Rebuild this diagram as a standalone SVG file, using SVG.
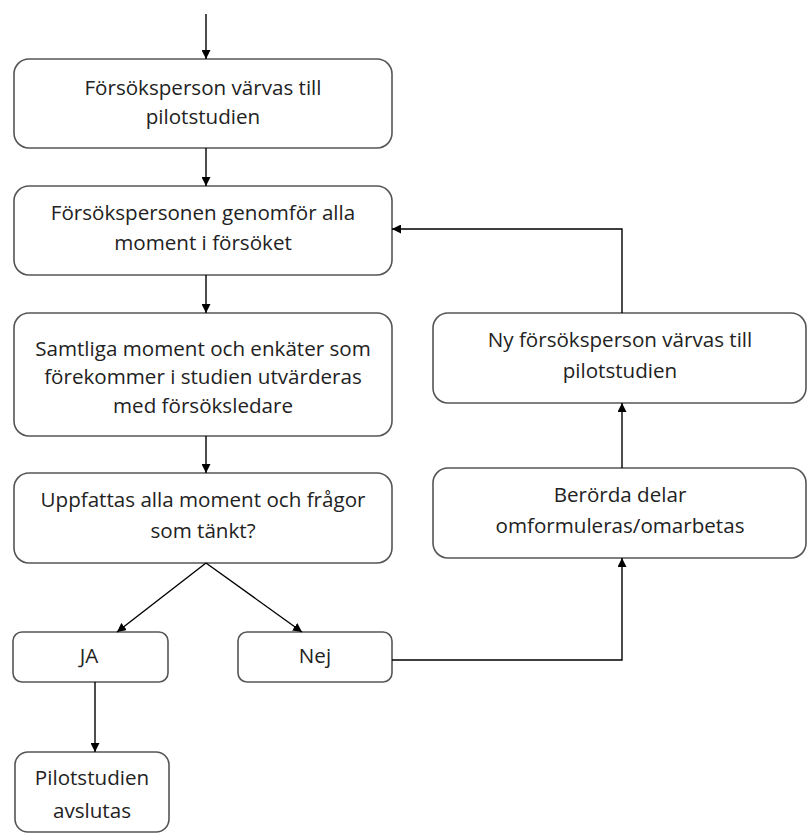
<svg xmlns="http://www.w3.org/2000/svg" width="807" height="840" viewBox="0 0 807 840">
<defs>
<marker id="ah" viewBox="0 0 10 10" refX="10" refY="5" markerWidth="9" markerHeight="9" markerUnits="userSpaceOnUse" orient="auto"><path d="M0,0 L10,5 L0,10 z" fill="#000"/></marker>
<style>
.box{fill:#fff;stroke:#555;stroke-width:1.6}
.t{font-family:"Open Sans","Liberation Sans",Arial,sans-serif;font-size:20.6px;fill:#222;text-anchor:middle}
.c{fill:none;stroke:#000;stroke-width:1.4;marker-end:url(#ah)}
</style>
</defs>
<rect width="807" height="840" fill="#fff"/>
<g id="n1"><rect class="box" x="14" y="59" width="378" height="89" rx="15"/><text class="t" x="203" y="95">Försöksperson värvas till</text><text class="t" x="203" y="124">pilotstudien</text></g>
<g id="n2"><rect class="box" x="14" y="186" width="378" height="89" rx="15"/><text class="t" x="203" y="220">Försökspersonen genomför alla</text><text class="t" x="203" y="250">moment i försöket</text></g>
<g id="n3"><rect class="box" x="14" y="313" width="378" height="123" rx="15"/><text class="t" x="203" y="356">Samtliga moment och enkäter som</text><text class="t" x="203" y="384">förekommer i studien utvärderas</text><text class="t" x="203" y="413">med försöksledare</text></g>
<g id="n4"><rect class="box" x="14" y="473" width="378" height="90" rx="15"/><text class="t" x="203" y="507">Uppfattas alla moment och frågor</text><text class="t" x="203" y="538">som tänkt?</text></g>
<g id="n5"><rect class="box" x="13" y="632" width="155" height="50" rx="9"/><text class="t" x="89" y="663">JA</text></g>
<g id="n6"><rect class="box" x="238" y="632" width="154" height="50" rx="9"/><text class="t" x="315" y="663">Nej</text></g>
<g id="n7"><rect class="box" x="15" y="752" width="154" height="80" rx="13"/><text class="t" x="92" y="785">Pilotstudien</text><text class="t" x="92" y="818">avslutas</text></g>
<g id="n8"><rect class="box" x="433" y="313" width="373" height="90" rx="15"/><text class="t" x="620" y="347">Ny försöksperson värvas till</text><text class="t" x="620" y="378">pilotstudien</text></g>
<g id="n9"><rect class="box" x="433" y="468" width="373" height="90" rx="15"/><text class="t" x="620" y="502">Berörda delar</text><text class="t" x="620" y="533">omformuleras/omarbetas</text></g>
<g id="connectors">
<path class="c" d="M206,14 V59"/>
<path class="c" d="M206,148 V186"/>
<path class="c" d="M206,275 V313"/>
<path class="c" d="M206,436 V473"/>
<path class="c" d="M206,563 L117,632"/>
<path class="c" d="M206,563 L302,632"/>
<path class="c" d="M95,682 V752"/>
<path class="c" d="M392,660 H622 V558"/>
<path class="c" d="M622,468 V403"/>
<path class="c" d="M622,313 V229 H392"/>
</g>
</svg>
